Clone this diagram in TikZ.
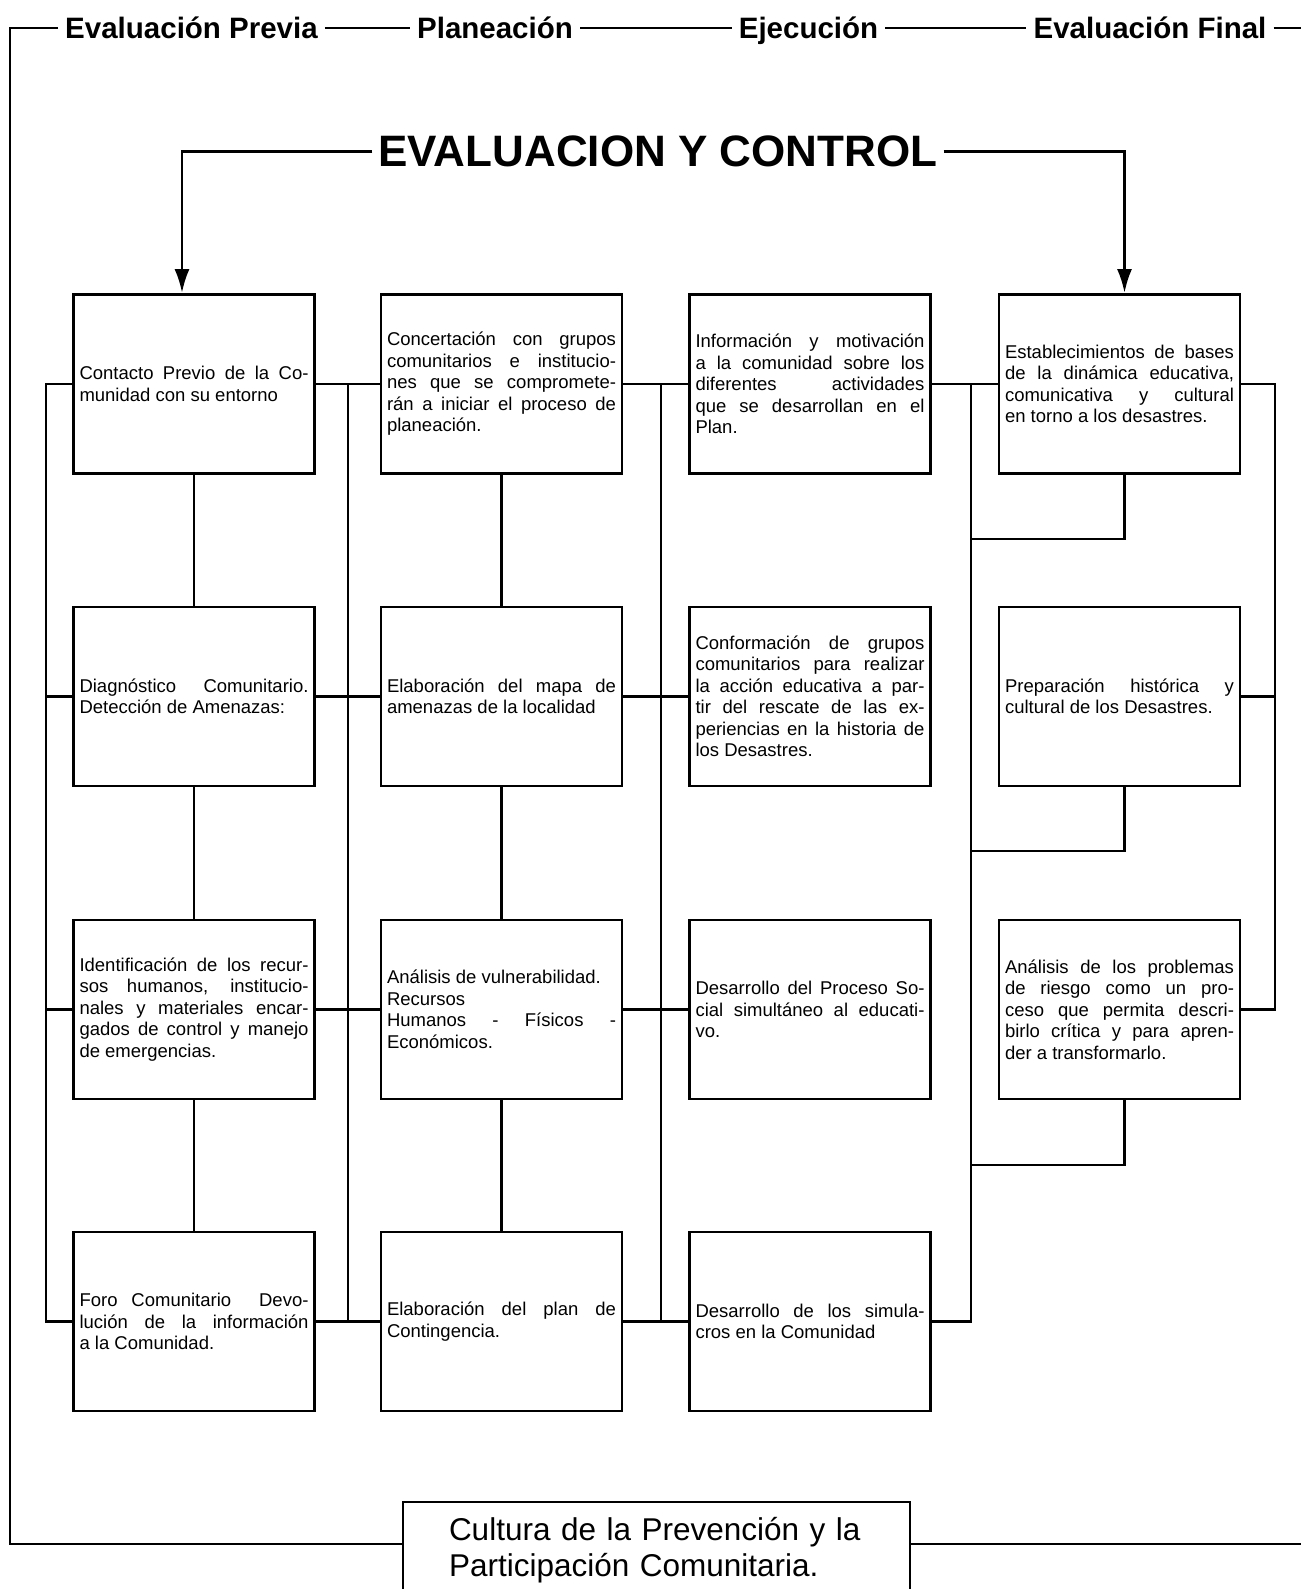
\documentclass[tikz,border=0pt]{standalone}
\usepackage{fontspec}
\setmainfont{Liberation Sans}
\usetikzlibrary{arrows.meta}

\tikzset{
  caja/.style={draw, line width=2.8pt, minimum width=241pt, minimum height=179pt, text width=229pt, inner xsep=6pt, align=justify, font=\fontsize{18.5}{21.5}\selectfont},
  enlace/.style={line width=2.9pt},
  marco/.style={line width=2.4pt},
  fase/.style={font=\bfseries\fontsize{29.5}{30}\selectfont, text height=21pt, text depth=0pt, inner sep=7pt, anchor=base},
  flecha/.style={enlace, -{Latex[length=24pt,width=15pt]}}
}

\begin{document}
\begin{tikzpicture}[x=1pt,y=1pt,yscale=-1,xscale=1]
\useasboundingbox (0,0) rectangle (1301,1589);

% Text Node
\node[fase] (p1) at (191.5,38.5) {Evaluación Previa};
% Text Node
\node[fase] (p2) at (495,38.5) {Planeación};
% Text Node
\node[fase] (p3) at (808.5,38.5) {Ejecución};
% Text Node
\node[fase] (p4) at (1150,38.5) {Evaluación Final};
% Text Node
\node[font=\bfseries\fontsize{44}{44}\selectfont, text height=31pt, text depth=0pt, inner sep=6pt, anchor=base] (ctl) at (658,167) {EVALUACION Y CONTROL};

%Shape: Rectangle
\node[caja] (b11) at (194,384) {Contacto Previo de la Co-\linebreak munidad con su entorno};
\node[caja] (b21) at (501.5,384) {Concertación con grupos\linebreak comunitarios e institucio-\linebreak nes que se compromete-\linebreak rán a iniciar el proceso de\linebreak planeación.};
\node[caja] (b31) at (810,384) {Información y motivación\linebreak a la comunidad sobre los\linebreak diferentes actividades\linebreak que se desarrollan en el\linebreak Plan.};
\node[caja] (b41) at (1119.5,384) {Establecimientos de bases\linebreak de la dinámica educativa,\linebreak comunicativa y cultural\linebreak en torno a los desastres.};
%Shape: Rectangle
\node[caja] (b12) at (194,696.5) {Diagnóstico Comunitario.\linebreak Detección de Amenazas:};
\node[caja] (b22) at (501.5,696.5) {Elaboración del mapa de\linebreak amenazas de la localidad};
\node[caja] (b32) at (810,696.5) {Conformación de grupos\linebreak comunitarios para realizar\linebreak la acción educativa a par-\linebreak tir del rescate de las ex-\linebreak periencias en la historia de\linebreak los Desastres.};
\node[caja] (b42) at (1119.5,696.5) {Preparación histórica y\linebreak cultural de los Desastres.};
%Shape: Rectangle
\node[caja] (b13) at (194,1009.5) {Identificación de los recur-\linebreak sos humanos, institucio-\linebreak nales y materiales encar-\linebreak gados de control y manejo\linebreak de emergencias.};
\node[caja] (b23) at (501.5,1009.5) {Análisis de vulnerabilidad.\\ Recursos\\ Humanos - Físicos -\linebreak Económicos.};
\node[caja] (b33) at (810,1009.5) {Desarrollo del Proceso So-\linebreak cial simultáneo al educati-\linebreak vo.};
\node[caja] (b43) at (1119.5,1009.5) {Análisis de los problemas\linebreak de riesgo como un pro-\linebreak ceso que permita descri-\linebreak birlo crítica y para apren-\linebreak der a transformarlo.};
%Shape: Rectangle
\node[caja] (b14) at (194,1321.5) {Foro Comunitario\ \ Devo-\linebreak lución de la información\linebreak a la Comunidad.};
\node[caja] (b24) at (501.5,1321.5) {Elaboración del plan de\linebreak Contingencia.};
\node[caja] (b34) at (810,1321.5) {Desarrollo de los simula-\linebreak cros en la Comunidad};

%Shape: Rectangle
\node[draw, line width=2.8pt, minimum width=507pt, minimum height=96pt, text width=415pt, align=left, font=\fontsize{31.5}{35.5}\selectfont] (cult) at (656.5,1550) {Cultura de la Prevención y la\\ Participación Comunitaria.};

\coordinate (tl) at (10,28);
\coordinate (tr) at (1301,28);
\coordinate (lb) at (10,1544);
\coordinate (rb) at (1301,1544);
\coordinate (busA) at (46,0);
\coordinate (busB) at (348,0);
\coordinate (busC) at (661,0);
\coordinate (busD) at (971,0);
\coordinate (busE) at (1275,0);
\coordinate (d1) at (971,539);
\coordinate (d2) at (971,851);
\coordinate (d3) at (971,1165);

%Straight Lines
\draw[marco] (p1.west) -- (tl) -- (lb) -- (lb -| cult.west);
\draw[marco] (p1.east) -- (p2.west);
\draw[marco] (p2.east) -- (p3.west);
\draw[marco] (p3.east) -- (p4.west);
\draw[marco] (p4.east) -- (tr);
\draw[marco] (cult.east |- rb) -- (rb);

%Straight Lines
\draw[flecha] (ctl.west) -| ([xshift=-12pt]b11.north);
\draw[flecha] (ctl.east) -| ([xshift=5pt]b41.north);

%Straight Lines
\foreach \c in {1,2}{
  \draw[enlace] (b\c1.south) -- (b\c2.north);
  \draw[enlace] (b\c2.south) -- (b\c3.north);
  \draw[enlace] (b\c3.south) -- (b\c4.north);
}
\foreach \r in {1,2,3,4}{
  \draw[enlace] (b1\r.east) -- (b2\r.west);
  \draw[enlace] (b2\r.east) -- (b3\r.west);
}
\draw[enlace] (b11.west) -| (busA |- b14.west) -- (b14.west);
\draw[enlace] (b12.west) -- (busA |- b12.west);
\draw[enlace] (b13.west) -- (busA |- b13.west);
\draw[enlace] (busB |- b11.east) -- (busB |- b14.east);
\draw[enlace] (busC |- b21.east) -- (busC |- b24.east);
\draw[enlace] (b31.east) -- (b41.west);
\draw[enlace] (busD |- b31.east) -- (busD |- b34.east) -- (b34.east);
\draw[enlace] ([xshift=5pt]b41.south) |- (d1);
\draw[enlace] ([xshift=5pt]b42.south) |- (d2);
\draw[enlace] ([xshift=5pt]b43.south) |- (d3);
\draw[enlace] (b41.east) -| (busE |- b43.east) -- (b43.east);
\draw[enlace] (b42.east) -- (busE |- b42.east);

\end{tikzpicture}
\end{document}
